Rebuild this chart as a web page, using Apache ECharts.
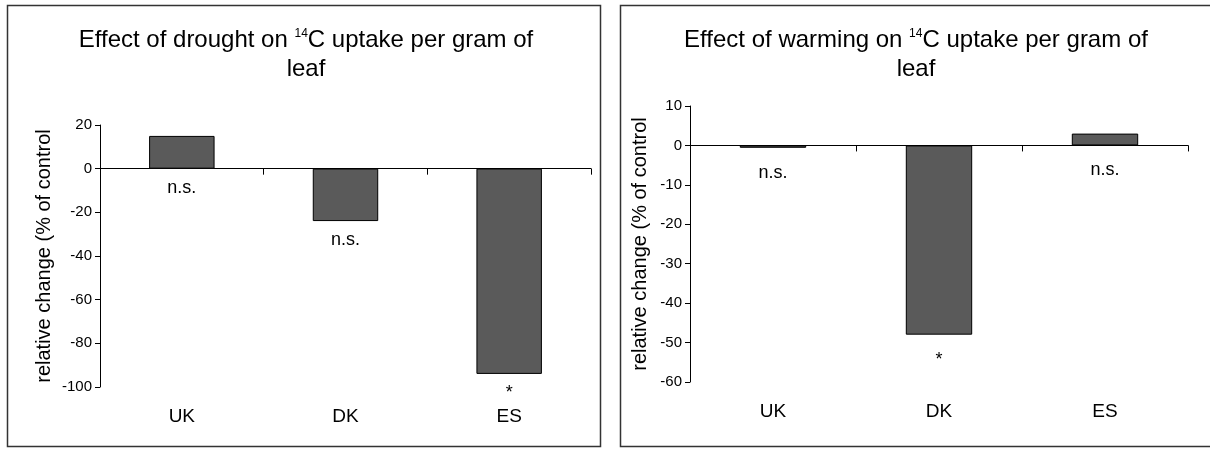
<!DOCTYPE html>
<html>
<head>
<meta charset="utf-8">
<script src="https://cdn.jsdelivr.net/npm/echarts@6/dist/echarts.min.js"></script>
<style>
html,body{margin:0;padding:0;background:#fff;}
#chart{width:1210px;height:449px;}
</style>
</head>
<body>
<div id="chart"></div>
<script>
// ---- data ----
const categories = ['UK', 'DK', 'ES'];
const droughtValues = [15, -24, -94];
const droughtSignif = ['n.s.', 'n.s.', '*'];
const warmingValues = [-0.6, -48, 3];
const warmingSignif = ['n.s.', '*', 'n.s.'];
const droughtTicks = { min: -100, max: 20, interval: 20 };
const warmingTicks = { min: -60, max: 10, interval: 10 };
const yAxisTitle = 'relative change (% of control';
const droughtTitle = ['Effect of drought on ', '14', 'C uptake per gram of', 'leaf'];
const warmingTitle = ['Effect of warming on ', '14', 'C uptake per gram of', 'leaf'];

// ---- styling ----
const FONT = "'Liberation Sans', Arial, sans-serif";
const BAR_COLOR = '#5a5a5a';

const chart = echarts.init(document.getElementById('chart'), null, { renderer: 'canvas' });

function titleText(parts) {
  return '{t|' + parts[0] + '}{s|' + parts[1] + '}{t|' + parts[2] + '}\n{t|' + parts[3] + '}';
}
const titleRich = {
  t: { fontSize: 24, fontFamily: FONT, color: '#000', lineHeight: 29 },
  s: { fontSize: 12, fontFamily: FONT, color: '#000', lineHeight: 12, verticalAlign: 'top', padding: [2, 0, 0, 0] }
};

function xAxes(gridIndex) {
  return [
    { // labels at bottom
      type: 'category', gridIndex: gridIndex, data: categories, position: 'bottom',
      axisLine: { show: false, onZero: false }, axisTick: { show: false },
      axisLabel: { color: '#000', fontSize: 19, fontFamily: FONT, margin: 20 },
      splitLine: { show: false }
    },
    { // zero line with ticks
      type: 'category', gridIndex: gridIndex, data: categories, position: 'top',
      axisLine: { show: true, onZero: true, lineStyle: { color: '#000', width: 1 } },
      axisTick: { show: true, inside: true, length: 6, lineStyle: { color: '#000' } },
      axisLabel: { show: false }, splitLine: { show: false }
    }
  ];
}

function yAxis(gridIndex, ticks, gap) {
  return {
    type: 'value', gridIndex: gridIndex, min: ticks.min, max: ticks.max, interval: ticks.interval,
    name: yAxisTitle, nameLocation: 'middle', nameGap: gap, nameRotate: 90,
    nameTextStyle: { color: '#000', fontSize: 20, fontFamily: FONT },
    axisLine: { show: true, onZero: false, lineStyle: { color: '#000', width: 1 } },
    axisTick: { show: true, length: 5, lineStyle: { color: '#000' } },
    axisLabel: { color: '#000', fontSize: 15, fontFamily: FONT, margin: 8 },
    splitLine: { show: false }
  };
}

function barSeries(idx, values, signif, dist) {
  return {
    type: 'bar', xAxisIndex: idx * 2, yAxisIndex: idx, data: values,
    barWidth: '40%',
    itemStyle: { color: BAR_COLOR, borderColor: '#000', borderWidth: 1 },
    label: {
      show: true, position: 'bottom', distance: dist,
      color: '#000', fontSize: 18, fontFamily: FONT,
      formatter: function (p) { return signif[p.dataIndex]; }
    },
    emphasis: { disabled: true },
    animation: false
  };
}

const option = {
  animation: false,
  grid: [
    { left: 100, right: 619, top: 125, bottom: 62 },
    { left: 690, right: 22, top: 106, bottom: 67 }
  ],
  xAxis: xAxes(0).concat(xAxes(1)),
  yAxis: [yAxis(0, droughtTicks, 46), yAxis(1, warmingTicks, 40)],
  series: [
    barSeries(0, droughtValues, droughtSignif, 10),
    barSeries(1, warmingValues, warmingSignif, 16)
  ],
  graphic: [
    { type: 'rect', shape: { x: 7.5, y: 5.5, width: 593, height: 441 },
      style: { fill: null, stroke: '#333', lineWidth: 1.5 }, silent: true },
    { type: 'rect', shape: { x: 620.5, y: 5.5, width: 600, height: 441 },
      style: { fill: null, stroke: '#333', lineWidth: 1.5 }, silent: true },
    { type: 'text', x: 306, y: 26,
      style: { text: titleText(droughtTitle), rich: titleRich, align: 'center', verticalAlign: 'top' } },
    { type: 'text', x: 916, y: 26,
      style: { text: titleText(warmingTitle), rich: titleRich, align: 'center', verticalAlign: 'top' } }
  ]
};
option.xAxis[1].axisLine.onZeroAxisIndex = 0;
option.xAxis[3].axisLine.onZeroAxisIndex = 1;
chart.setOption(option);
</script>
</body>
</html>
